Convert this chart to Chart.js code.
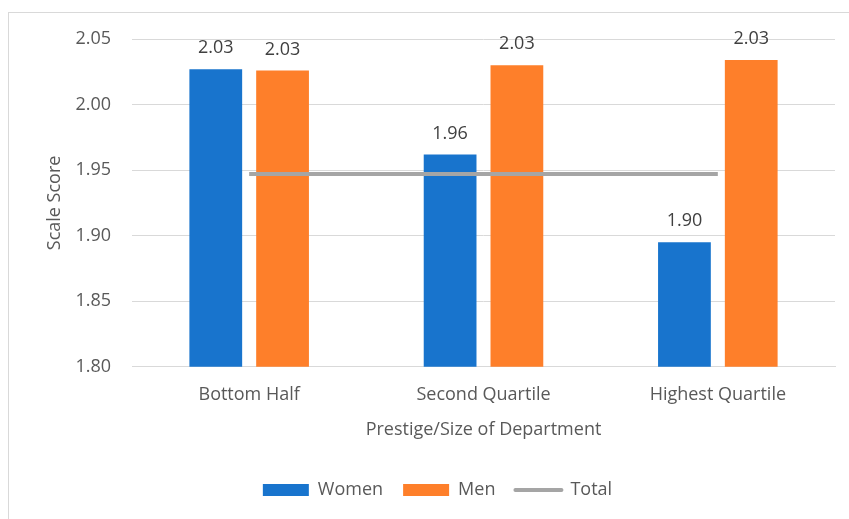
<!DOCTYPE html>
<html>
<head>
<meta charset="utf-8">
<script src="https://cdn.jsdelivr.net/npm/chart.js@4/dist/chart.umd.min.js"></script>
<style>
  html, body { margin: 0; padding: 0; background: #fff; }
  #wrap { position: relative; width: 849px; height: 519px; overflow: hidden; }
  #frame { position: absolute; left: 8px; top: 12px; width: 860px; height: 520px; border: 1px solid #d9d9d9; box-sizing: border-box; }
  canvas { position: absolute; left: 0; top: 0; }
</style>
</head>
<body>
<div id="wrap">
  <div id="frame"></div>
  <canvas id="chart" width="849" height="519"></canvas>
</div>
<script>
// chart values
const categories = ["Bottom Half", "Second Quartile", "Highest Quartile"];
const women = [2.027, 1.962, 1.895];
const men = [2.026, 2.030, 2.034];
const total = [1.947, 1.947, 1.947];
const yTicks = [1.80, 1.85, 1.90, 1.95, 2.00, 2.05];

const FONT = "'Open Sans', 'Noto Sans', sans-serif";
const SIZE = 18;

// draw value labels above bars
const barLabels = {
  id: 'barLabels',
  afterDatasetsDraw(chart) {
    const ctx = chart.ctx;
    ctx.save();
    ctx.font = SIZE + "px " + FONT;
    ctx.fillStyle = '#404040';
    ctx.textAlign = 'center';
    ctx.textBaseline = 'bottom';
    chart.data.datasets.forEach((ds, i) => {
      if (ds.type === 'line') return;
      chart.getDatasetMeta(i).data.forEach((bar, j) => {
        ctx.fillText(ds.data[j].toFixed(2), bar.x, bar.y - 12);
      });
    });
    ctx.restore();
  }
};

// nudge the legend a bit to the right, like the original
const legendShift = {
  id: 'legendShift',
  afterLayout(chart) {
    chart.legend.left += 16;
    chart.legend.right += 16;
  }
};

new Chart(document.getElementById('chart'), {
  type: 'bar',
  data: {
    labels: categories,
    datasets: [
      {
        label: 'Women',
        data: women,
        backgroundColor: '#1874cd',
        order: 2,
        categoryPercentage: 0.57,
        barPercentage: 0.79
      },
      {
        label: 'Men',
        data: men,
        backgroundColor: '#fe7f2a',
        order: 2,
        categoryPercentage: 0.57,
        barPercentage: 0.79
      },
      {
        type: 'line',
        label: 'Total',
        data: total,
        borderColor: '#a5a5a5',
        borderWidth: 4,
        pointRadius: 0,
        fill: false,
        order: 1
      }
    ]
  },
  options: {
    responsive: false,
    animation: false,
    devicePixelRatio: 1,
    layout: { padding: { left: 8, top: 39, right: 14, bottom: 10 } },
    plugins: {
      tooltip: { enabled: false },
      legend: {
        position: 'bottom',
        labels: {
          font: { family: FONT, size: SIZE },
          color: '#595959',
          usePointStyle: true,
          pointStyleWidth: 46,
          boxHeight: 12,
          padding: 20,
          generateLabels(chart) {
            return chart.data.datasets.map((ds, i) => ({
              text: ds.label,
              fillStyle: ds.type === 'line' ? ds.borderColor : ds.backgroundColor,
              strokeStyle: ds.type === 'line' ? ds.borderColor : ds.backgroundColor,
              lineWidth: ds.type === 'line' ? 4 : 0,
              lineCap: 'round',
              pointStyle: ds.type === 'line' ? 'line' : 'rect',
              fontColor: '#595959',
              datasetIndex: i
            }));
          }
        }
      }
    },
    scales: {
      x: {
        grid: { display: false, drawTicks: false },
        border: { color: '#d9d9d9' },
        ticks: { font: { family: FONT, size: SIZE }, color: '#595959', padding: 17 },
        title: {
          display: true,
          text: 'Prestige/Size of Department',
          font: { family: FONT, size: SIZE },
          color: '#595959',
          padding: { top: -3, bottom: 20 }
        }
      },
      y: {
        min: 1.80,
        max: 2.05,
        afterBuildTicks(scale) { scale.ticks = yTicks.map(v => ({ value: v })); },
        afterFit(scale) { scale.width = 124; },
        grid: { color: '#d9d9d9', drawTicks: false },
        border: { display: false },
        ticks: {
          font: { family: FONT, size: SIZE },
          color: '#595959',
          padding: 21,
          callback: v => Number(v).toFixed(2)
        },
        title: {
          display: true,
          text: 'Scale Score',
          font: { family: FONT, size: SIZE },
          color: '#595959',
          padding: { top: 36, bottom: 0 }
        }
      }
    }
  },
  plugins: [barLabels, legendShift]
});
</script>
</body>
</html>
